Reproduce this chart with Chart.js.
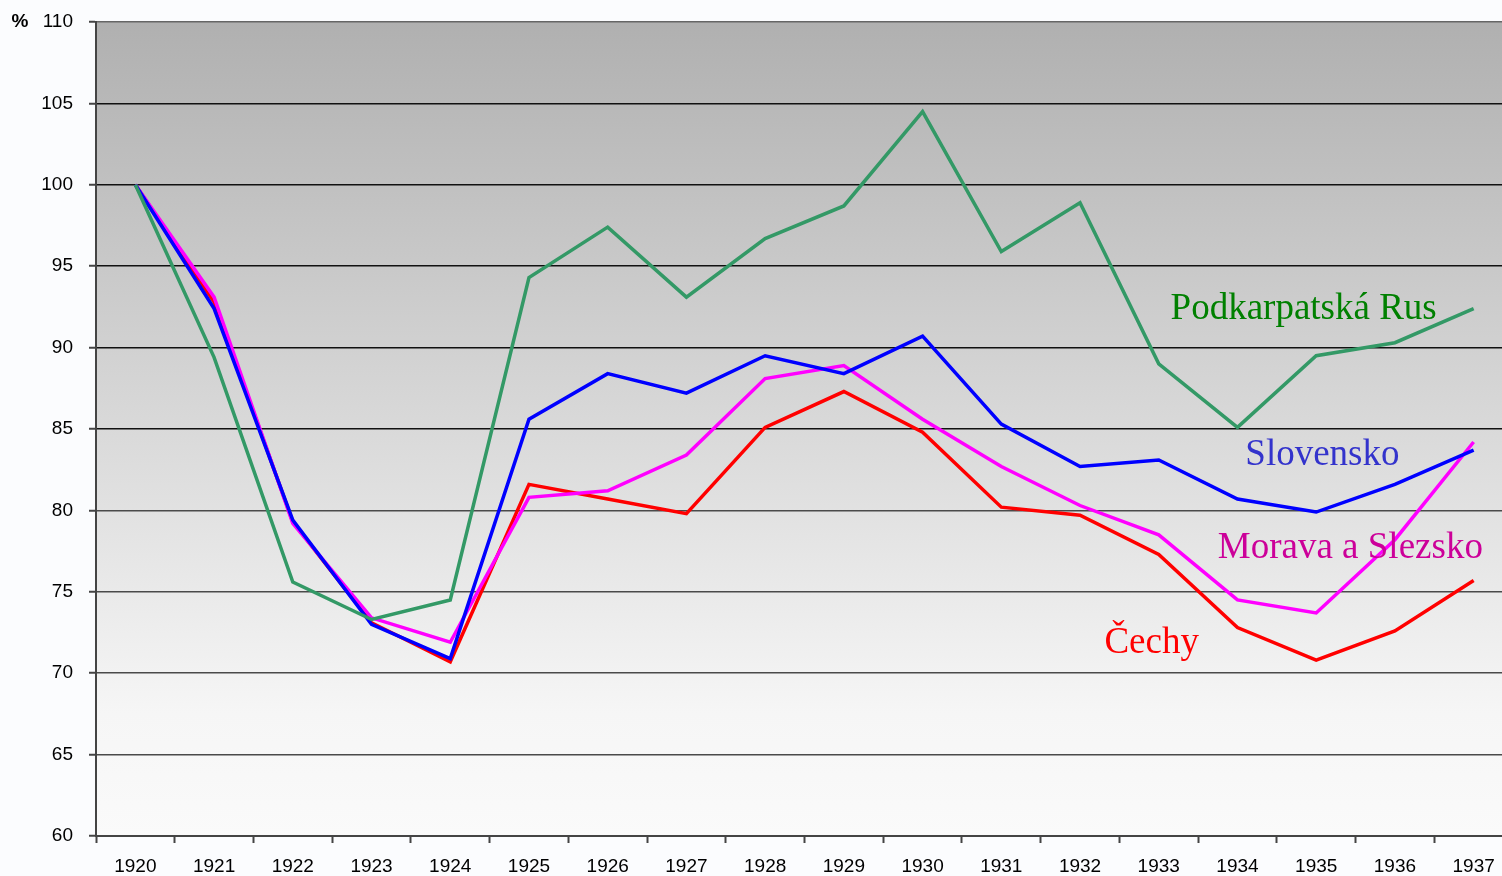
<!DOCTYPE html>
<html>
<head>
<meta charset="utf-8">
<script src="https://cdn.jsdelivr.net/npm/chart.js@4/dist/chart.umd.min.js"></script>
<style>
    html, body { margin: 0; padding: 0; background: #fbfcfe; overflow: hidden; }
    #wrap { width: 1513px; height: 876px; }
</style>
</head>
<body>
<div id="wrap"><canvas id="chart" width="1513" height="876"></canvas></div>
<script>
// Years on the category axis
const years = ['1920', '1921', '1922', '1923', '1924', '1925', '1926', '1927', '1928',
    '1929', '1930', '1931', '1932', '1933', '1934', '1935', '1936', '1937'];

// Index values (1920 = 100)
const podkarpatskaRus = [100, 89.4, 75.6, 73.3, 74.5, 94.3, 97.4, 93.1, 96.7,
    98.7, 104.5, 95.9, 98.9, 89.0, 85.1, 89.5, 90.3, 92.4];
const slovensko = [100, 92.4, 79.4, 73.0, 70.9, 85.6, 88.4, 87.2, 89.5,
    88.4, 90.7, 85.3, 82.7, 83.1, 80.7, 79.9, 81.6, 83.7];
const moravaSlezsko = [100, 93.1, 79.2, 73.4, 71.9, 80.8, 81.2, 83.4, 88.1,
    88.9, 85.6, 82.7, 80.3, 78.5, 74.5, 73.7, 78.2, 84.2];
const cechy = [100, 92.8, 79.3, 73.1, 70.7, 81.6, 80.7, 79.8, 85.1,
    87.3, 84.8, 80.2, 79.7, 77.3, 72.8, 70.8, 72.6, 75.7];

const yMin = 60;
const yMax = 110;
const yStep = 5;

// Series names written inside the plot
const seriesNames = ['Podkarpatská Rus', 'Slovensko', 'Morava a Slezsko', 'Čechy'];

// Draws the grey gradient behind the plot area
const plotBackground = {
    id: 'plotBackground',
    beforeDraw(chart) {
        const { ctx, chartArea } = chart;
        const grad = ctx.createLinearGradient(0, chartArea.top, 0, chartArea.bottom);
        grad.addColorStop(0, '#b0b0b0');
        grad.addColorStop(0.85, '#f6f6f6');
        grad.addColorStop(1, '#fafafa');
        ctx.save();
        ctx.fillStyle = grad;
        ctx.fillRect(chartArea.left, chartArea.top, chartArea.right - chartArea.left, chartArea.bottom - chartArea.top);
        ctx.restore();
    }
};

// Series names and the % unit, anchored through the scales
const seriesLabels = {
    id: 'seriesLabels',
    afterDatasetsDraw(chart, args, opts) {
        const { ctx, scales } = chart;
        ctx.save();
        ctx.textBaseline = 'alphabetic';
        ctx.textAlign = 'left';
        ctx.font = opts.font;
        opts.items.forEach(item => {
            ctx.fillStyle = item.color;
            ctx.fillText(item.text, scales.x.getPixelForValue(item.x), scales.y.getPixelForValue(item.y));
        });
        ctx.font = 'bold 19px "Liberation Sans", Arial, sans-serif';
        ctx.fillStyle = '#000';
        ctx.textAlign = 'center';
        ctx.textBaseline = 'middle';
        ctx.fillText('%', 20, scales.y.getPixelForValue(yMax));
        ctx.restore();
    }
};

const lineStyle = { borderWidth: 3.5, tension: 0, fill: false, pointRadius: 0 };

const ctx = document.getElementById('chart').getContext('2d');
const chart = new Chart(ctx, {
    type: 'line',
    data: {
        labels: years,
        datasets: [
            { label: seriesNames[0], data: podkarpatskaRus, borderColor: '#339966', ...lineStyle },
            { label: seriesNames[1], data: slovensko, borderColor: '#0000ff', ...lineStyle },
            { label: seriesNames[2], data: moravaSlezsko, borderColor: '#ff00ff', ...lineStyle },
            { label: seriesNames[3], data: cechy, borderColor: '#ff0000', ...lineStyle }
        ]
    },
    options: {
        responsive: false,
        animation: false,
        layout: { padding: { top: 22, right: 0, left: 0, bottom: 0 } },
        scales: {
            x: {
                type: 'category',
                offset: true,
                grid: {
                    offset: true,
                    drawOnChartArea: false,
                    drawTicks: true,
                    tickLength: 7,
                    tickColor: '#444',
                    tickWidth: 2
                },
                border: { display: true, color: '#444', width: 2 },
                ticks: {
                    color: '#000',
                    padding: 12,
                    maxRotation: 0,
                    autoSkip: false,
                    font: { family: '"Liberation Sans", Arial, sans-serif', size: 19 }
                },
                afterFit(scale) { scale.height = 40; }
            },
            y: {
                min: yMin,
                max: yMax,
                ticks: {
                    stepSize: yStep,
                    color: '#000',
                    padding: 16,
                    font: { family: '"Liberation Sans", Arial, sans-serif', size: 19 }
                },
                grid: {
                    color: c => c.tick && c.tick.value === yMax ? '#666' : (c.tick && c.tick.value >= 85 ? '#111' : '#4a4a4a'),
                    lineWidth: 1.5,
                    tickLength: 7,
                    tickColor: '#444',
                    tickWidth: 2
                },
                border: { display: true, color: '#444', width: 2 },
                afterFit(scale) {
                    // keep the plot top where the reference has it
                    scale.width = 96;
                    scale.paddingTop = 11;
                    scale.paddingBottom = 11;
                }
            }
        },
        plugins: {
            legend: { display: false },
            tooltip: { enabled: false },
            seriesLabels: {
                font: '37px "Liberation Serif", "Times New Roman", serif',
                items: [
                    { text: seriesNames[0], color: '#008000', x: 13.15, y: 91.76 },
                    { text: seriesNames[1], color: '#3333cc', x: 14.1, y: 82.79 },
                    { text: seriesNames[2], color: '#cc0099', x: 13.75, y: 77.08 },
                    { text: seriesNames[3], color: '#ff0000', x: 12.31, y: 71.24 }
                ]
            }
        }
    },
    plugins: [plotBackground, seriesLabels]
});
</script>
</body>
</html>
